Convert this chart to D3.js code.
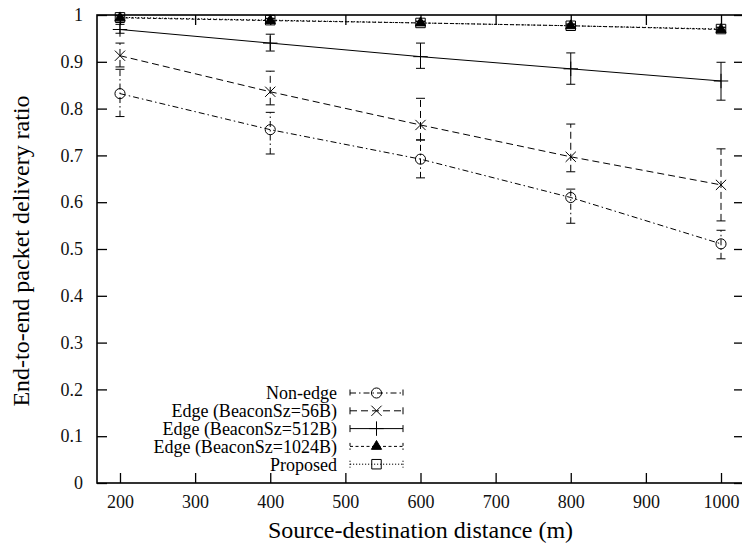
<!DOCTYPE html>
<html>
<head>
<meta charset="utf-8">
<script src="https://cdn.jsdelivr.net/npm/d3@7"></script>
<style>
  body { margin: 0; background: #fff; }
  svg text { font-family: "Liberation Serif", "Times New Roman", Times, serif; }
</style>
</head>
<body>
<svg id="chart" width="742" height="546"></svg>
<script>
// x positions (source-destination distance, m)
const distances = [200, 400, 600, 800, 1000];

const xTicks = [200, 300, 400, 500, 600, 700, 800, 900, 1000];
const yTicks = [0, 0.1, 0.2, 0.3, 0.4, 0.5, 0.6, 0.7, 0.8, 0.9, 1];

const seriesNames = ["Non-edge", "Edge (BeaconSz=56B)", "Edge (BeaconSz=512B)", "Edge (BeaconSz=1024B)", "Proposed"];

// delivery ratio, with error bar low / high
const nonEdge     = [0.832, 0.755, 0.692, 0.610, 0.511];
const nonEdgeLow  = [0.783, 0.703, 0.652, 0.555, 0.479];
const nonEdgeHigh = [0.884, 0.792, 0.733, 0.628, 0.540];

const edge56     = [0.913, 0.836, 0.765, 0.697, 0.637];
const edge56Low  = [0.889, 0.808, 0.733, 0.665, 0.560];
const edge56High = [0.940, 0.880, 0.822, 0.767, 0.714];

const edge512     = [0.969, 0.940, 0.911, 0.885, 0.859];
const edge512Low  = [0.961, 0.923, 0.886, 0.852, 0.818];
const edge512High = [0.980, 0.959, 0.940, 0.919, 0.899];

const edge1024     = [0.994, 0.988, 0.983, 0.977, 0.969];
const edge1024Low  = [0.990, 0.985, 0.979, 0.973, 0.965];
const edge1024High = [0.998, 0.992, 0.986, 0.980, 0.973];

const proposed     = [0.995, 0.989, 0.983, 0.977, 0.970];
const proposedLow  = [0.984, 0.985, 0.980, 0.974, 0.966];
const proposedHigh = [0.999, 0.993, 0.987, 0.981, 0.974];

const svg = d3.select("#chart");
const serif = "'Liberation Serif', 'Times New Roman', Times, serif";

const padL = 97, padR = 744, padT = 15, padB = 483;

const x = d3.scaleLinear().domain([169.4, 1030.6]).range([padL, padR]);
const y = d3.scaleLinear().domain([0, 1]).range([padB, padT]);

const toRows = (mean, low, high) => distances.map((d, i) => ({x: d, y: mean[i], lo: low[i], hi: high[i]}));

const series = [
  {name: seriesNames[0], rows: toRows(nonEdge, nonEdgeLow, nonEdgeHigh), dash: "6,3,1.5,3", symbol: d3.symbolCircle, size: 80, fill: "none"},
  {name: seriesNames[1], rows: toRows(edge56, edge56Low, edge56High), dash: "7,4", symbol: d3.symbolX, size: 70, fill: "none"},
  {name: seriesNames[2], rows: toRows(edge512, edge512Low, edge512High), dash: null, symbol: d3.symbolPlus, size: 70, fill: "none"},
  {name: seriesNames[3], rows: toRows(edge1024, edge1024Low, edge1024High), dash: "3,2.5", symbol: d3.symbolTriangle, size: 45, fill: "#000"},
  {name: seriesNames[4], rows: toRows(proposed, proposedLow, proposedHigh), dash: "1.2,1.8", symbol: d3.symbolSquare, size: 90, fill: "none"}
];

// axes (ticks point inward, mirrored on top / right)
const yFmt = d => (d === 0 || d === 1) ? String(d) : d.toFixed(1);

const gx = svg.append("g").attr("transform", `translate(0,${padB})`)
  .call(d3.axisBottom(x).tickValues(xTicks).tickSizeInner(-10).tickSizeOuter(0).tickPadding(10).tickFormat(d3.format("d")));
const gy = svg.append("g").attr("transform", `translate(${padL},0)`)
  .call(d3.axisLeft(y).tickValues(yTicks).tickSizeInner(-10).tickSizeOuter(0).tickPadding(14).tickFormat(yFmt));
const gt = svg.append("g").attr("transform", `translate(0,${padT})`)
  .call(d3.axisTop(x).tickValues(xTicks).tickSizeInner(-10).tickSizeOuter(0).tickFormat(""));
const gr = svg.append("g").attr("transform", `translate(${padR},0)`)
  .call(d3.axisRight(y).tickValues(yTicks).tickSizeInner(-10).tickSizeOuter(0).tickFormat(""));

[gx, gy, gt, gr].forEach(g => {
  g.attr("font-family", serif).attr("font-size", 18);
  g.select(".domain").remove();
  g.selectAll(".tick line").attr("stroke", "#000").attr("stroke-width", 1.3);
  g.selectAll(".tick text").attr("fill", "#111");
});
gx.selectAll(".tick text").attr("dy", "0.85em");

svg.append("rect")
  .attr("x", padL).attr("y", padT)
  .attr("width", padR - padL).attr("height", padB - padT)
  .attr("fill", "none").attr("stroke", "#000").attr("stroke-width", 1.6);

// axis titles
svg.append("text")
  .attr("x", (padL + padR) / 2).attr("y", 538)
  .attr("text-anchor", "middle")
  .attr("font-family", serif).attr("font-size", 24)
  .text("Source-destination distance (m)");

svg.append("text")
  .attr("transform", `translate(29,251) rotate(-90)`)
  .attr("text-anchor", "middle")
  .attr("font-family", serif).attr("font-size", 24)
  .text("End-to-end packet delivery ratio");

// series
const line = d3.line().x(d => x(d.x)).y(d => y(d.y));
const capW = 4.5;

const plot = svg.append("g");

series.forEach(s => {
  const g = plot.append("g");

  g.append("path")
    .attr("d", line(s.rows))
    .attr("fill", "none").attr("stroke", "#000").attr("stroke-width", 1)
    .attr("stroke-dasharray", s.dash);

  const bars = g.selectAll(".bar").data(s.rows).enter().append("g").attr("class", "bar");
  bars.append("line")
    .attr("x1", d => x(d.x)).attr("x2", d => x(d.x))
    .attr("y1", d => y(d.lo)).attr("y2", d => y(d.hi))
    .attr("stroke", "#000").attr("stroke-width", 1).attr("stroke-dasharray", s.dash);
  ["lo", "hi"].forEach(k => {
    bars.append("line")
      .attr("x1", d => x(d.x) - capW).attr("x2", d => x(d.x) + capW)
      .attr("y1", d => y(d[k])).attr("y2", d => y(d[k]))
      .attr("stroke", "#000").attr("stroke-width", 1);
  });

  g.selectAll(".pt").data(s.rows).enter().append("path")
    .attr("class", "pt")
    .attr("transform", d => `translate(${x(d.x)},${y(d.y)})`)
    .attr("d", d3.symbol().type(s.symbol).size(s.size))
    .attr("fill", s.fill).attr("stroke", "#000").attr("stroke-width", 1);
});

// legend
const legX = 337, sampleX0 = 350, sampleX1 = 403, legY0 = 393, legStep = 17.8;
const legend = svg.append("g").attr("font-family", serif).attr("font-size", 18);

series.forEach((s, i) => {
  const ly = legY0 + i * legStep;
  legend.append("text")
    .attr("x", legX).attr("y", ly).attr("dy", "0.35em")
    .attr("text-anchor", "end")
    .text(s.name);
  legend.append("line")
    .attr("x1", sampleX0).attr("x2", sampleX1).attr("y1", ly).attr("y2", ly)
    .attr("stroke", "#000").attr("stroke-width", 1).attr("stroke-dasharray", s.dash);
  [sampleX0, sampleX1].forEach(ex => {
    legend.append("line")
      .attr("x1", ex).attr("x2", ex).attr("y1", ly - 3.5).attr("y2", ly + 3.5)
      .attr("stroke", "#000").attr("stroke-width", 1).attr("stroke-dasharray", s.dash);
  });
  legend.append("path")
    .attr("transform", `translate(${(sampleX0 + sampleX1) / 2},${ly})`)
    .attr("d", d3.symbol().type(s.symbol).size(s.size))
    .attr("fill", s.fill).attr("stroke", "#000").attr("stroke-width", 1);
});
</script>
</body>
</html>
